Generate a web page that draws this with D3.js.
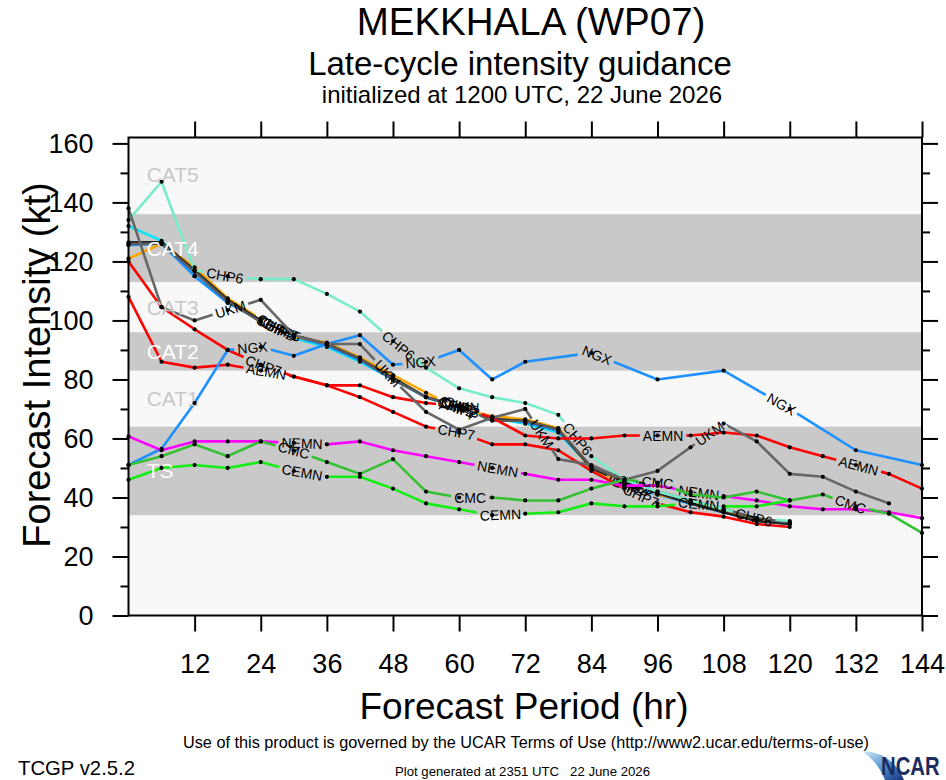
<!DOCTYPE html>
<html lang="en">
<head>
<meta charset="UTF-8" />
<title>MEKKHALA (WP07) - Late-cycle intensity guidance</title>
<script src="https://d3js.org/d3.v7.min.js"></script>
<style>
  body { margin: 0; background: #fff; }
  svg { display: block; font-family: 'Liberation Sans', Arial, Helvetica, sans-serif; }
  .narrow { font-family: 'Liberation Sans Narrow', 'Arial Narrow', 'Liberation Sans', sans-serif; }
</style>
</head>
<body>
<svg id="chart" width="946" height="780"></svg>
<script>
// forecast hours used by the models
const hours120 = [0, 6, 12, 18, 24, 30, 36, 42, 48, 54, 60, 66, 72, 78, 84, 90, 96, 102, 108, 114, 120];
const hours138 = [0, 6, 12, 18, 24, 30, 36, 42, 48, 54, 60, 66, 72, 78, 84, 90, 96, 102, 108, 114, 120, 126, 132, 138];
const hours144 = [0, 6, 12, 18, 24, 30, 36, 42, 48, 54, 60, 66, 72, 78, 84, 90, 96, 102, 108, 114, 120, 126, 132, 138, 144];
const hoursNgx = [0, 6, 12, 18, 24, 30, 36, 42, 48, 54, 60, 66, 72, 84, 96, 108, 120, 132, 144];

// intensity (kt)
const chipKt = [132, 127, 115, 106, 100, 94, 91, 86, 80, 74, 70, 67, 65, 62, 50, 44, 41, 38, 35, 32.5, 31];
const chp2Kt = [125.5, 126, 115, 106, 100, 94.5, 91.5, 86.5, 80, 74, 70.5, 67, 65.5, 62.5, 50, 44.5, 41, 38, 35, 32, 31];
const chp3Kt = [126.5, 126.5, 117, 107, 100, 95, 92, 87, 80.5, 74, 71, 66.5, 66, 63, 50, 45, 41.5, 38, 35, 32, 31];
const chp4Kt = [121, 126, 118, 107.5, 100.5, 94.5, 92.5, 87.5, 81.5, 75.5, 70, 67.5, 66.5, 63.5, 49.5, 45, 41, 38.5, 35.5, 32.5, 31.3];
const chp5Kt = [126, 126, 116.5, 106.5, 99.5, 95, 92, 87, 80, 74, 71, 66, 66, 63, 50.5, 45.5, 42, 39, 36, 33, 31.5];
const chp6Kt = [134, 147, 117, 115, 114, 114, 109, 103, 93, 84, 77, 74, 72, 68, 54, 46, 42, 39, 36, 33, 32];
const chp7Kt = [120, 104.5, 97, 90, 85, 81, 78, 74, 69, 64, 62, 58, 58, 56, 49, 43, 38, 35, 33.5, 31, 30];
const aemnKt = [108, 86, 84, 85, 83, 81, 78, 78, 74, 72, 71, 67, 61, 60, 60, 61, 61, 61, 62, 61, 57, 54, 51, 48, 43];
const ngxKt = [51, 56.5, 72, 90, 91, 88, 92, 95, 85, 86, 90, 80, 86, 89, 80, 83, 70, 56, 51];
const ukmKt = [138, 104.5, 100, 103.5, 107, 95, 92, 92, 80, 69, 63, 67, 70, 53, 51, 46, 49, 57, 65, 59, 48, 47, 42, 38];
const nemnKt = [60.7, 56, 59, 59, 59, 58.5, 58, 59, 56, 54, 52, 50, 48, 46, 46, 44, 44, 42, 40.5, 39, 37, 36, 36, 35, 33];
const cmcKt = [51, 54, 58, 54, 59, 56, 52, 48, 53, 42, 40, 40, 39, 39, 43, 46, 45, 41, 40, 42, 39, 41, 37, 34.5, 28];
const cemnKt = [46, 50, 51, 50, 52, 49, 47, 47, 43, 38, 36, 34, 34.5, 35, 38, 37, 37, 38, 37, 37, 39];

// forecast hour where each line label sits
const labelHours = {
  CHIP: [26, 59, 90], CHP2: [27, 60, 91], CHP3: [27.5, 60.5, 90.5],
  CHP4: [26.5, 59.5, 91.5], CHP5: [28, 60, 92],
  CHP6: [17.5, 49, 81.5, 113.5], CHP7: [24.5, 59.5, 93],
  AEMN: [25, 60, 97, 132.5], NGX: [22.5, 53, 85, 118.5],
  UKM: [18.5, 47, 75, 105.5], NEMN: [31.5, 67, 103.5],
  CMC: [30, 62, 96, 131], CEMN: [31.5, 67.5, 103.5]
};

// intensity categories
const catNames = ["TS", "CAT1", "CAT2", "CAT3", "CAT4", "CAT5"];
const catLow = [34, 64, 83, 96, 113, 136];
const catHigh = [64, 83, 96, 113, 136, 162];

const yMajor = [0, 20, 40, 60, 80, 100, 120, 140, 160];
const yMinor = [10, 30, 50, 70, 90, 110, 130, 150];
const xMajor = [12, 24, 36, 48, 60, 72, 84, 96, 108, 120, 132, 144];

// drawing order, bottom first
const models = [
  { name: "CHIP", hours: hours120, kt: chipKt, color: "#12e4f6" },
  { name: "CHP2", hours: hours120, kt: chp2Kt, color: "#1e90ff" },
  { name: "CHP4", hours: hours120, kt: chp4Kt, color: "#ffa500" },
  { name: "CHP3", hours: hours120, kt: chp3Kt, color: "#222222" },
  { name: "CHP5", hours: hours120, kt: chp5Kt, color: "#5a5a5a" },
  { name: "CHP7", hours: hours120, kt: chp7Kt, color: "#ff0000" },
  { name: "CHP6", hours: hours120, kt: chp6Kt, color: "#78ebcb" },
  { name: "AEMN", hours: hours144, kt: aemnKt, color: "#ff0000" },
  { name: "NGX", hours: hoursNgx, kt: ngxKt, color: "#1e90ff" },
  { name: "UKM", hours: hours138, kt: ukmKt, color: "#666666" },
  { name: "NEMN", hours: hours144, kt: nemnKt, color: "#ff00ff" },
  { name: "CMC", hours: hours144, kt: cmcKt, color: "#33c033" },
  { name: "CEMN", hours: hours120, kt: cemnKt, color: "#11ee11" }
];

const W = 946, H = 780;
const svg = d3.select("#chart");
const defs = svg.append("defs");

const x = d3.scaleLinear().domain([0, 144]).range([128.5, 922]);
const y = d3.scaleLinear().domain([0, 162]).range([615.5, 137.5]);

// titles
svg.append("text").attr("x", 531).attr("y", 35).attr("text-anchor", "middle")
  .attr("font-size", 38.5).text("MEKKHALA (WP07)");
svg.append("text").attr("x", 520).attr("y", 75).attr("text-anchor", "middle")
  .attr("font-size", 33).text("Late-cycle intensity guidance");
svg.append("text").attr("x", 522).attr("y", 103).attr("text-anchor", "middle")
  .attr("font-size", 24).text("initialized at 1200 UTC, 22 June 2026");

// plot background and category bands
const plot = svg.append("g");
plot.append("rect")
  .attr("x", x(0)).attr("y", y(162))
  .attr("width", x(144) - x(0)).attr("height", y(0) - y(162))
  .attr("fill", "#f8f8f8");

catNames.forEach((c, i) => {
  if (i % 2 === 0) {
    plot.append("rect")
      .attr("x", x(0)).attr("y", y(catHigh[i]))
      .attr("width", x(144) - x(0)).attr("height", y(catLow[i]) - y(catHigh[i]))
      .attr("fill", "#c9c9c9");
  }
});

// model lines with labels breaking the line
const line = d3.line();
const labelSize = 14;
const lineLayer = svg.append("g");
const catLayer = svg.append("g");
const dotLayer = svg.append("g");

catNames.forEach((c, i) => {
  catLayer.append("text")
    .attr("x", x(3.3)).attr("y", y((catLow[i] + catHigh[i]) / 2 + (i === 5 ? 0.5 : 0)))
    .attr("dy", "0.36em")
    .attr("font-size", 21)
    .attr("fill", i % 2 === 0 ? "#ffffff" : "#c8c8c8")
    .text(c);
});

function labelPlace(m, h) {
  let j = 0;
  while (j < m.hours.length - 2 && m.hours[j + 1] < h) j++;
  const h0 = m.hours[j], h1 = m.hours[j + 1];
  const x0 = x(h0), y0 = y(m.kt[j]), x1 = x(h1), y1 = y(m.kt[j + 1]);
  const t = (h - h0) / (h1 - h0);
  return {
    px: x0 + t * (x1 - x0),
    py: y0 + t * (y1 - y0),
    ang: Math.atan2(y1 - y0, x1 - x0) * 180 / Math.PI
  };
}

models.forEach((m, i) => {
  const g = lineLayer.append("g");
  const pts = m.hours.map((h, j) => [x(h), y(m.kt[j])]);
  g.append("path")
    .attr("d", line(pts))
    .attr("fill", "none")
    .attr("stroke", m.color)
    .attr("stroke-width", 2.6)
    .attr("stroke-linejoin", "round")
    .attr("mask", `url(#gap${i})`);

  const mask = defs.append("mask").attr("id", "gap" + i)
    .attr("maskUnits", "userSpaceOnUse")
    .attr("x", 0).attr("y", 0).attr("width", W).attr("height", H);
  mask.append("rect").attr("width", W).attr("height", H).attr("fill", "white");

  labelHours[m.name].forEach(h => {
    const p = labelPlace(m, h);
    const txt = g.append("text")
      .attr("transform", `translate(${p.px},${p.py}) rotate(${p.ang})`)
      .attr("text-anchor", "middle")
      .attr("dy", "0.36em")
      .attr("font-size", labelSize)
      .attr("fill", "#000")
      .text(m.name);
    const w = txt.node().getComputedTextLength();
    mask.append("rect")
      .attr("x", -w / 2 - 3).attr("y", -7.5)
      .attr("width", w + 6).attr("height", 15)
      .attr("transform", `translate(${p.px},${p.py}) rotate(${p.ang})`)
      .attr("fill", "black");
  });

  dotLayer.selectAll(null)
    .data(pts)
    .join("circle")
    .attr("cx", d => d[0]).attr("cy", d => d[1])
    .attr("r", 2.1)
    .attr("fill", "#000");
});

// axes
const axisStyle = g => {
  g.select(".domain").remove();
  g.selectAll("line").attr("stroke", "#000").attr("stroke-width", 2);
  g.selectAll("text").attr("font-size", 27).attr("font-family", null).attr("fill", "#000");
};

svg.append("g").attr("transform", `translate(${x(0)},0)`)
  .call(d3.axisLeft(y).tickValues(yMajor).tickSize(16).tickPadding(19).tickFormat(d3.format("d")))
  .call(axisStyle);
svg.append("g").attr("transform", `translate(${x(0)},0)`)
  .call(d3.axisLeft(y).tickValues(yMinor).tickSize(8).tickFormat(""))
  .call(axisStyle);
svg.append("g").attr("transform", `translate(${x(144)},0)`)
  .call(d3.axisRight(y).tickValues(yMajor).tickSize(16).tickFormat(""))
  .call(axisStyle);
svg.append("g").attr("transform", `translate(${x(144)},0)`)
  .call(d3.axisRight(y).tickValues(yMinor).tickSize(8).tickFormat(""))
  .call(axisStyle);
svg.append("g").attr("transform", `translate(0,${y(0)})`)
  .call(d3.axisBottom(x).tickValues(xMajor).tickSize(16).tickPadding(22).tickFormat(d3.format("d")))
  .call(axisStyle);
svg.append("g").attr("transform", `translate(0,${y(162)})`)
  .call(d3.axisTop(x).tickValues(xMajor).tickSize(16).tickFormat(""))
  .call(axisStyle);

// frame
svg.append("rect")
  .attr("x", x(0)).attr("y", y(162))
  .attr("width", x(144) - x(0)).attr("height", y(0) - y(162))
  .attr("fill", "none").attr("stroke", "#000").attr("stroke-width", 2);

// axis titles
svg.append("text")
  .attr("transform", "translate(50,365) rotate(-90)")
  .attr("text-anchor", "middle").attr("font-size", 38)
  .text("Forecast Intensity (kt)");
svg.append("text")
  .attr("x", 524).attr("y", 719).attr("text-anchor", "middle")
  .attr("font-size", 37).text("Forecast Period (hr)");

// footer
svg.append("text").attr("class", "narrow")
  .attr("x", 183).attr("y", 748).attr("font-size", 16)
  .attr("textLength", 686).attr("lengthAdjust", "spacingAndGlyphs")
  .text("Use of this product is governed by the UCAR Terms of Use (http://www2.ucar.edu/terms-of-use)");
svg.append("text").attr("class", "narrow")
  .attr("x", 18).attr("y", 775).attr("font-size", 21)
  .attr("textLength", 117).attr("lengthAdjust", "spacingAndGlyphs")
  .text("TCGP v2.5.2");
svg.append("text").attr("class", "narrow")
  .attr("x", 395).attr("y", 776).attr("font-size", 13.5)
  .attr("textLength", 255).attr("lengthAdjust", "spacingAndGlyphs")
  .attr("xml:space", "preserve")
  .text("Plot generated at 2351 UTC   22 June 2026");

// NCAR logo
const grad = defs.append("linearGradient").attr("id", "ncarSwoosh")
  .attr("x1", "0").attr("y1", "0").attr("x2", "1").attr("y2", "1");
grad.append("stop").attr("offset", "0%").attr("stop-color", "#d6ecf8");
grad.append("stop").attr("offset", "55%").attr("stop-color", "#4a8fd0");
grad.append("stop").attr("offset", "100%").attr("stop-color", "#152f78");
svg.append("path")
  .attr("d", "M862,751 Q892,752 904,780 L885,780 Q878,762 862,751 Z")
  .attr("fill", "url(#ncarSwoosh)");
svg.append("text")
  .attr("transform", "translate(881,775) scale(0.78,1)")
  .attr("font-family", "'Liberation Sans', Arial, sans-serif")
  .attr("font-size", 26).attr("font-weight", "bold")
  .attr("fill", "#1b2c5e")
  .text("NCAR");
</script>
</body>
</html>
